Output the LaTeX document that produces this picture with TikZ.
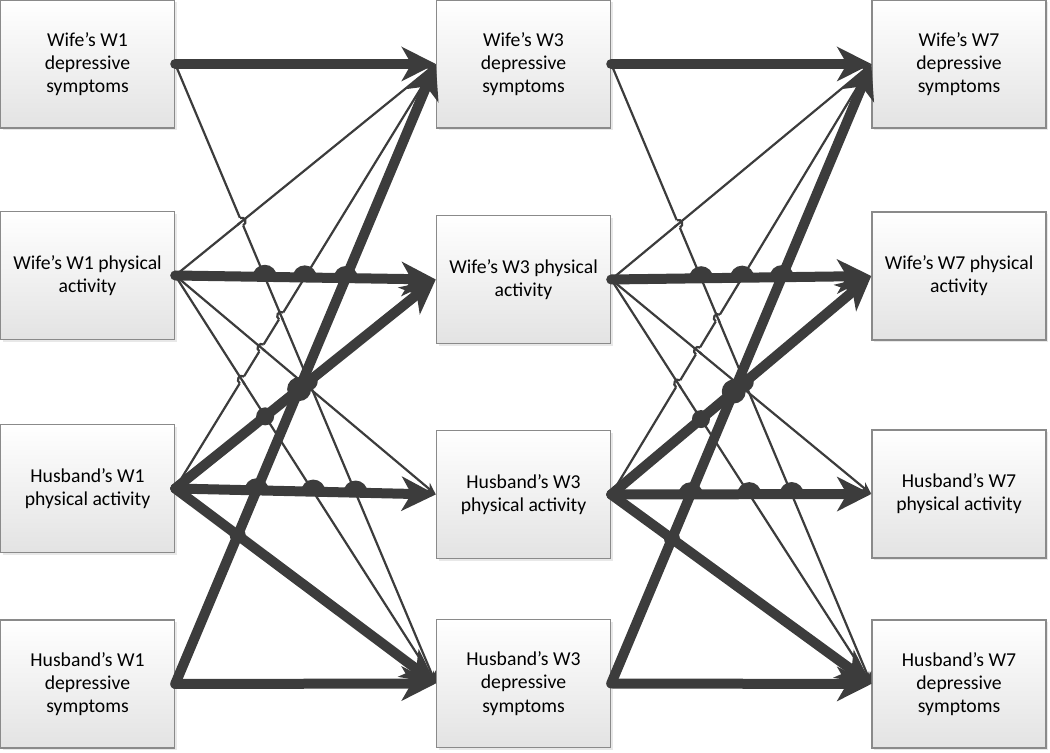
\documentclass[tikz,border=0pt]{standalone}
\usepackage{fontspec}
\setmainfont{Carlito}
\usetikzlibrary{arrows.meta,calc,intersections,shadows,positioning}
\definecolor{linegray}{HTML}{3C3C3C}
\definecolor{boxedge}{HTML}{8A8A8A}
\tikzstyle{var}=[draw=boxedge, line width=0.35mm, top color=white, bottom color=black!11,
  minimum width=43.5mm, minimum height=32mm, align=center,
  font=\fontsize{14}{16.5}\selectfont,
  drop shadow={opacity=0.18, shadow xshift=0.6mm, shadow yshift=-0.6mm}]
\tikzstyle{strong}=[draw=linegray, line width=2.5mm, line cap=round,
  -{Stealth[length=8.5mm, width=8.5mm, inset=2.4mm]}]
\tikzstyle{weak}=[draw=linegray, line width=0.55mm, -{Stealth[length=3mm, width=2.5mm]}]
\tikzstyle{hop}=[draw=linegray, line width=2.5mm]
\tikzstyle{weakline}=[draw=linegray, line width=0.55mm]
% thin line #1--#2 jumps over thin line #3--#4
\newcommand{\jump}[4]{%
  \coordinate (jj) at (intersection of #1--#2 and #3--#4);
  \draw[white, line width=0.9mm] ($(jj)!1mm!(#1)$) -- ($(jj)!1mm!(#2)$);
  \draw[weakline] ($(jj)!1.3mm!(#3)$) -- ($(jj)!1.3mm!(#4)$);
  \draw[weakline] let \p1=($(#2)-(#1)$), \n1={atan2(\y1,\x1)} in
    ($(jj)!1mm!(#1)$) arc[start angle=\n1+180, delta angle=-180, radius=1mm];
}

\begin{document}
\begin{tikzpicture}[x=0.25mm, y=0.25mm]
\useasboundingbox (0,0) rectangle (1050,753);
% boxes, one column per wave
\node[var] (wd1) at (87.5,689) {Wife’s W1\\depressive\\symptoms};
\node[var] (wp1) at (87.5,477.5) {Wife’s W1 physical\\activity};
\node[var] (hp1) at (87.5,264.5) {Husband’s W1\\physical activity};
\node[var] (hd1) at (87.5,69) {Husband’s W1\\depressive\\symptoms};
\node[var] (wd3) at (523.5,689) {Wife’s W3\\depressive\\symptoms};
\node[var] (wp3) at (523.5,473.5) {Wife’s W3 physical\\activity};
\node[var] (hp3) at (523.5,258.5) {Husband’s W3\\physical activity};
\node[var] (hd3) at (523.5,69.5) {Husband’s W3\\depressive\\symptoms};
\node[var] (wd7) at (959,689) {Wife’s W7\\depressive\\symptoms};
\node[var] (wp7) at (959,477) {Wife’s W7 physical\\activity};
\node[var] (hp7) at (959,259) {Husband’s W7\\physical activity};
\node[var] (hd7) at (959,69) {Husband’s W7\\depressive\\symptoms};
% paths between waves
\foreach \s/\t in {1/3,3/7}{
  \draw[weak, name path=wdhd] (wd\s.east) -- (hd\t.west);
  \draw[weak] (wp\s.east) -- (wd\t.west);
  \draw[weak] (wp\s.east) -- (hp\t.west);
  \draw[weak, name path=wphd] (wp\s.east) -- (hd\t.west);
  \draw[weak, name path=hpwd] (hp\s.east) -- (wd\t.west);
  % jumps of thin lines
  \jump{wd\s.east}{hd\t.west}{wp\s.east}{wd\t.west}
  \jump{hp\s.east}{wd\t.west}{wd\s.east}{hd\t.west}
  \jump{hp\s.east}{wd\t.west}{wp\s.east}{hp\t.west}
  \jump{hp\s.east}{wd\t.west}{wp\s.east}{hd\t.west}
  \draw[strong] (wd\s.east) -- (wd\t.west);
  \draw[strong, name path=wpwp] (wp\s.east) -- (wp\t.west);
  \draw[strong, name path=hphp] (hp\s.east) -- (hp\t.west);
  \draw[strong, name path=hphd] (hp\s.east) -- (hd\t.west);
  \draw[strong, name path=hdwd] (hd\s.east) -- (wd\t.west);
  \draw[strong, name path=hpwp] (hp\s.east) -- (wp\t.west);
  \draw[strong] (hd\s.east) -- (hd\t.west);
  % line jumps
  \foreach \p in {wdhd,hpwd,hdwd}{
    \path[name intersections={of=wpwp and \p, by=j}];
    \draw[hop] ($(j)+(-7,0)$) arc[start angle=180, end angle=0, radius=7];
  }
  \foreach \p in {hdwd,wphd,wdhd}{
    \path[name intersections={of=hphp and \p, by=j}];
    \draw[hop] ($(j)+(-7,0)$) arc[start angle=180, end angle=0, radius=7];
  }
  \foreach \p/\r in {wphd/9,hdwd/12,wdhd/9}{
    \path[name intersections={of=hpwp and \p, by=j}];
    \fill[linegray] (j) circle[radius=\r];
  }
  \path[name intersections={of=hdwd and hphd, by=j}];
  \fill[linegray] (j) circle[radius=8];
}
\end{tikzpicture}
\end{document}
